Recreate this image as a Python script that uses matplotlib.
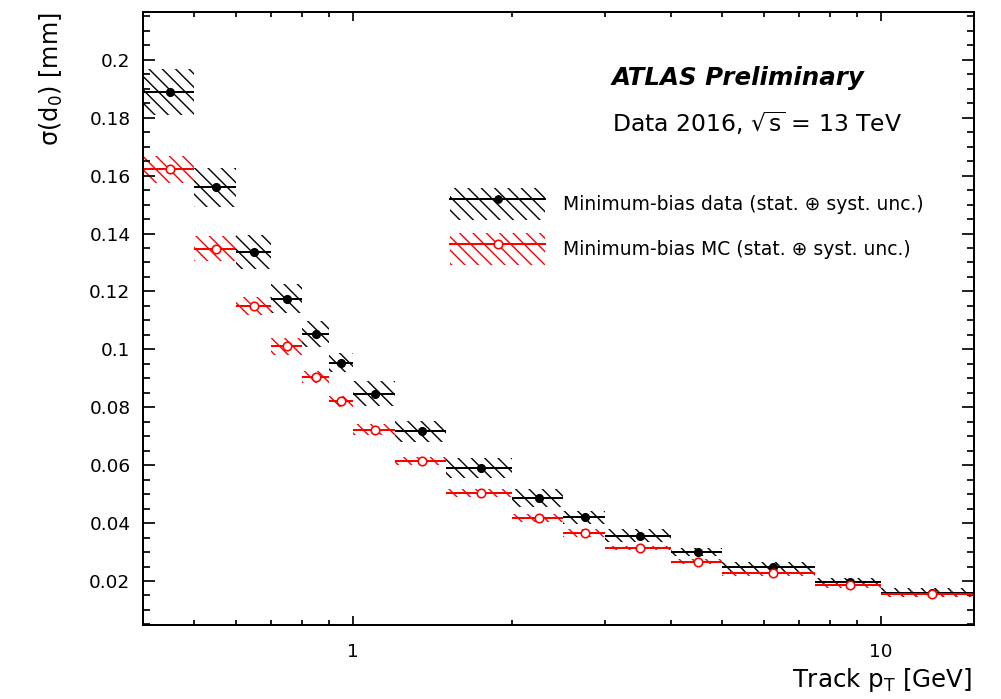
import numpy as np
import matplotlib
matplotlib.use("Agg")
import matplotlib.pyplot as plt
from matplotlib.ticker import MultipleLocator, LogLocator, NullFormatter, FuncFormatter
from matplotlib.patches import Rectangle
from matplotlib.lines import Line2D

DPI = 80
def px(v):
    # pixels -> points at this dpi
    return v*72.0/DPI

plt.rcParams['font.family'] = ['DejaVu Sans']
plt.rcParams['mathtext.default'] = 'regular'
plt.rcParams['hatch.linewidth'] = px(1.4)

# bin edges in track pT [GeV]
edges = [0.4, 0.5, 0.6, 0.7, 0.8, 0.9, 1.0, 1.2, 1.5, 2.0, 2.5, 3.0, 4.0, 5.0, 7.5, 10.0, 15.0]

# sigma(d0) [mm], minimum-bias data
data_val = [0.1888, 0.1559, 0.1337, 0.1175, 0.1052, 0.0954, 0.0847, 0.0717,
            0.0591, 0.0486, 0.0420, 0.0356, 0.0299, 0.0249, 0.0197, 0.0160]
data_err = [0.0080, 0.0066, 0.0058, 0.0050, 0.0045, 0.0032, 0.0043, 0.0036,
            0.0035, 0.0032, 0.0023, 0.0023, 0.0014, 0.0017, 0.0014, 0.0015]

# sigma(d0) [mm], minimum-bias MC
mc_val = [0.1622, 0.1348, 0.1150, 0.1010, 0.0904, 0.0820, 0.0723, 0.0614,
          0.0503, 0.0417, 0.0365, 0.0314, 0.0267, 0.0226, 0.0186, 0.0155]
mc_err = [0.0046, 0.0043, 0.0032, 0.0030, 0.0020, 0.0020, 0.0018, 0.0014,
          0.0013, 0.0014, 0.0013, 0.0008, 0.0009, 0.0010, 0.0009, 0.0010]

lo = np.array(edges[:-1])
hi = np.array(edges[1:])
cen = 0.5*(lo+hi)

fig = plt.figure(figsize=(1001.0/DPI, 699.0/DPI), dpi=DPI)
ax = fig.add_axes([143/1001, 1-625/699, 831/1001, 613/699])

def draw(vals, errs, col, mfc, ms):
    vals = np.array(vals); errs = np.array(errs)
    ax.bar(lo, 2*errs, bottom=vals-errs, width=hi-lo, align='edge',
           fill=False, hatch='\\\\', edgecolor=col, linewidth=0)
    ax.errorbar(cen, vals, xerr=[cen-lo, hi-cen], fmt='o', color=col,
                mfc=mfc, mec=col, ms=px(ms), mew=px(1.6), elinewidth=px(2), capsize=0)

draw(data_val, data_err, 'black', 'black', 7.5)
draw(mc_val, mc_err, 'red', 'white', 8.5)

ax.set_xscale('log')
ax.set_xlim(0.4, 15)
ax.set_ylim(0.0048, 0.2165)

ax.xaxis.set_major_locator(LogLocator(base=10))
ax.xaxis.set_minor_locator(LogLocator(base=10, subs=np.arange(2, 10)))
ax.xaxis.set_major_formatter(FuncFormatter(lambda v, p: '%g' % v))
ax.xaxis.set_minor_formatter(NullFormatter())
ax.yaxis.set_major_locator(MultipleLocator(0.02))
ax.yaxis.set_minor_locator(MultipleLocator(0.005))
ax.yaxis.set_major_formatter(FuncFormatter(lambda v, p: '%g' % round(v, 3)))

ax.tick_params(which='both', direction='in', top=True, right=True, width=px(1.7), labelsize=px(18.5))
ax.tick_params(axis='y', which='major', length=px(12), pad=px(12.5))
ax.tick_params(axis='y', which='minor', length=px(7))
ax.tick_params(axis='x', which='major', length=px(9), pad=px(18))
ax.tick_params(axis='x', which='minor', length=px(5))
for s in ax.spines.values():
    s.set_linewidth(px(2))

fig.text(65/1001, 1-12/699, u'σ(d$_0$) [mm]', rotation=90, ha='right', va='top', fontsize=px(24))
fig.text(972/1001, 1-687/699, 'Track p$_T$ [GeV]', ha='right', va='baseline', fontsize=px(24.5))

fig.text(612/1001, 1-85/699, 'ATLAS Preliminary', fontsize=px(24.5), fontweight='bold', fontstyle='italic')
fig.text(612/1001, 1-132/699, r'Data 2016, $\sqrt{s}$ = 13 TeV', fontsize=px(23.5))

h_data = (Rectangle((0, 0), 1, 1, fill=False, hatch='\\\\', edgecolor='black', linewidth=0),
          Line2D([], [], color='black', marker='o', ms=px(7.5), lw=px(2)))
h_mc = (Rectangle((0, 0), 1, 1, fill=False, hatch='\\\\', edgecolor='red', linewidth=0),
        Line2D([], [], color='red', marker='o', mfc='white', mec='red', ms=px(8.5), mew=px(1.6), lw=px(2)))
fs = 18.7
ax.legend([h_data, h_mc],
          [u'Minimum-bias data (stat. \u2295 syst. unc.)', u'Minimum-bias MC (stat. \u2295 syst. unc.)'],
          loc='upper left', bbox_to_anchor=(450/1001, 1-188/699), bbox_transform=fig.transFigure,
          frameon=False, fontsize=px(fs), handlelength=95/fs, handleheight=2.256,
          labelspacing=13/fs, handletextpad=18/fs, borderpad=0, borderaxespad=0)

fig.savefig('out.png', dpi=DPI)
